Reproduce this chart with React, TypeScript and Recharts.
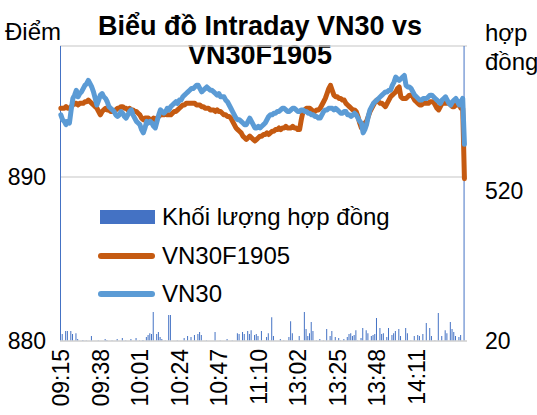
import React from 'react';
import { ComposedChart, Bar, Line, XAxis, YAxis, CartesianGrid, Legend } from 'recharts';

const FONT = '"Liberation Sans", Arial, sans-serif';

// trading sessions (one category per minute)
const sessions = [
  ['09:15', '11:30'],
  ['13:00', '14:40'],
];

const tickTimes = ['09:15', '09:38', '10:01', '10:24', '10:47', '11:10', '13:02', '13:25', '13:48', '14:11'];

const leftTicks = [880, 890];
const rightTicks = [20, 520];

// volume (contracts) per minute
const volume = [
  1500, 43, null, 53, 53, null, 53, 43, null, 46,
  27, null, null, 23, null, 22, null, null, 37, null,
  null, null, 22, null, null, null, 27, 23, null, null,
  22, null, null, 27, null, null, 30, null, 22, null,
  null, 27, null, null, 30, null, 22, null, 23, null,
  33, 40, 46, 43, 116, null, 43, 50, 33, 27,
  null, 22, null, 106, 106, null, null, null, 22, null,
  null, null, 30, null, 37, null, 33, null, 40, null,
  43, 50, 40, null, null, 22, null, null, null, null,
  50, null, null, 22, null, null, null, 27, null, null,
  22, null, null, 46, 43, null, 50, 43, null, 53,
  43, 56, null, 40, 43, 37, null, 53, null, null,
  33, 46, null, 99, 37, null, null, null, 27, null,
  22, null, null, 33, 86, 46, null, 22, null, 37,
  null, null, 116, 60, 37, 46, 83, 53, null, 22,
  null, 27, null, 22, null, 60, null, 37, 53, null,
  33, null, 30, 22, null, 27, null, 33, 43, 46,
  37, 40, 56, 22, null, 30, 63, null, 56, 46,
  null, 37, 40, 43, 96, null, 63, 43, 46, null,
  33, 63, null, 40, 46, 53, null, 60, 37, null,
  null, 63, 46, null, 22, null, 37, null, 40, 37,
  null, 43, null, 80, null, 63, 37, null, 22, null,
  113, null, 37, null, 56, 46, null, 83, 60, 50,
  37, null, 33, 40, null, 1500,
];

const vn30f = [
  894.2, 894.2, 894.2, 894.3, 894.2, 894.2, 894.3, 894.4, 894.5, 894.5,
  894.4, 894.5, 894.5, 894.5, 894.6, 894.6, 894.7, 894.6, 894.5, 894.4,
  894.3, 894.2, 894.0, 893.8, 894.0, 894.1, 894.2, 894.1, 894.1, 894.0,
  894.0, 894.0, 894.1, 894.2, 894.2, 894.3, 894.3, 894.2, 894.2, 894.1,
  894.2, 894.1, 894.1, 894.0, 894.0, 893.9, 893.8, 893.6, 893.5, 893.6,
  893.6, 893.6, 893.5, 893.5, 893.6, 893.5, 893.6, 893.7, 893.8, 893.8,
  893.8, 893.9, 893.8, 893.8, 893.8, 893.9, 894.0, 894.0, 894.1, 894.2,
  894.3, 894.4, 894.4, 894.5, 894.5, 894.5, 894.5, 894.5, 894.5, 894.4,
  894.4, 894.4, 894.3, 894.3, 894.2, 894.2, 894.2, 894.1, 894.1, 894.1,
  894.0, 894.1, 894.0, 894.0, 893.9, 893.8, 893.8, 893.7, 893.7, 893.6,
  893.4, 893.2, 893.0, 892.9, 892.8, 892.7, 892.5, 892.4, 892.3, 892.4,
  892.5, 892.4, 892.3, 892.2, 892.3, 892.4, 892.5, 892.5, 892.6, 892.6,
  892.7, 892.6, 892.7, 892.8, 892.8, 892.9, 892.9, 893.0, 892.9, 893.0,
  893.0, 893.1, 893.0, 893.0, 893.0, 893.1, 893.0, 893.0, 892.9, 892.9,
  893.5, 894.0, 894.1, 894.2, 894.2, 894.2, 894.1, 894.0, 894.0, 894.1,
  894.1, 894.2, 894.4, 894.6, 894.8, 895.1, 895.4, 895.6, 895.3, 895.0,
  894.9, 894.9, 894.8, 894.8, 894.7, 894.7, 894.5, 894.4, 894.3, 894.2,
  894.1, 894.1, 894.0, 893.7, 893.3, 893.0, 893.1, 893.3, 893.4, 893.7,
  894.0, 894.2, 894.4, 894.6, 894.7, 894.6, 894.5, 894.5, 894.4, 894.3,
  894.5, 894.7, 894.9, 895.0, 895.1, 895.2, 895.4, 895.5, 894.9, 894.8,
  894.8, 894.8, 894.9, 895.0, 895.0, 894.9, 894.7, 894.6, 894.5, 894.4,
  894.4, 894.5, 894.5, 894.5, 894.5, 894.6, 894.6, 894.6, 894.4, 894.2,
  894.1, 894.3, 894.5, 894.5, 894.5, 894.5, 894.5, 894.4, 894.3, 894.3,
  894.4, 894.4, 894.4, 894.2, 894.2, 889.9,
];

const vn30 = [
  893.8, 893.5, 893.4, 893.2, 893.4, 893.3, 894.1, 894.8, 895.0, 895.3,
  894.9, 895.1, 895.2, 895.4, 895.6, 895.7, 895.9, 895.7, 895.5, 895.2,
  894.8, 894.4, 894.7, 895.0, 895.1, 894.9, 894.8, 894.6, 894.3, 894.2,
  894.1, 894.0, 893.8, 893.7, 893.8, 894.0, 893.9, 893.7, 893.6, 893.8,
  894.0, 894.1, 893.8, 893.6, 893.4, 893.3, 893.2, 892.9, 892.7, 893.0,
  893.4, 893.3, 893.4, 893.3, 893.1, 893.0, 893.4, 893.8, 894.1, 894.0,
  893.9, 894.0, 894.2, 894.1, 894.3, 894.4, 894.5, 894.6, 894.5, 894.7,
  894.7, 894.9, 895.0, 895.1, 895.2, 895.3, 895.4, 895.4, 895.5, 895.6,
  895.6, 895.4, 895.2, 895.3, 895.4, 895.5, 895.4, 895.3, 895.3, 895.2,
  895.1, 895.0, 895.1, 894.9, 894.9, 894.9, 894.7, 894.6, 894.4, 894.2,
  894.0, 893.8, 893.6, 893.5, 893.5, 893.4, 893.3, 893.2, 893.2, 893.4,
  893.6, 893.4, 893.2, 893.0, 893.0, 893.1, 893.0, 893.1, 893.2, 893.3,
  893.5, 893.7, 893.8, 893.8, 893.9, 893.9, 894.0, 894.0, 894.1, 894.2,
  894.2, 894.1, 894.0, 894.0, 894.1, 894.2, 894.2, 894.1, 894.0, 894.0,
  894.1, 894.1, 894.0, 894.0, 893.9, 893.9, 893.8, 893.8, 893.7, 893.7,
  893.6, 893.6, 893.8, 894.0, 894.1, 894.1, 894.2, 894.2, 894.2, 894.1,
  894.2, 894.1, 894.0, 893.9, 893.9, 894.0, 894.0, 893.8, 893.8, 893.7,
  893.8, 893.9, 893.8, 893.6, 893.4, 893.3, 892.7, 892.9, 893.2, 893.7,
  894.1, 894.3, 894.5, 894.6, 894.7, 894.8, 894.9, 895.0, 895.1, 895.2,
  895.2, 895.3, 895.3, 895.6, 895.8, 896.1, 896.0, 895.9, 896.0, 896.1,
  896.2, 895.6, 895.5, 895.5, 895.4, 895.2, 895.0, 894.9, 894.8, 894.7,
  894.7, 894.8, 894.8, 894.8, 894.9, 895.0, 895.0, 894.9, 894.8, 894.7,
  894.6, 894.5, 894.7, 894.8, 894.9, 894.7, 894.5, 894.4, 894.6, 894.7,
  894.8, 894.6, 894.4, 894.6, 894.8, 892.0,
];

const legendItems = [
  { name: 'Khối lượng hợp đồng', color: '#4472C4', kind: 'bar' },
  { name: 'VN30F1905', color: '#C55A11', kind: 'line' },
  { name: 'VN30', color: '#5B9BD5', kind: 'line' },
];

const toMin = (t: string) => {
  const [h, m] = t.split(':').map(Number);
  return h * 60 + m;
};
const pad = (n: number) => (n < 10 ? '0' + n : '' + n);

const times: string[] = [];
sessions.forEach(([from, to]) => {
  for (let m = toMin(from); m <= toMin(to); m++) {
    times.push(pad(Math.floor(m / 60)) + ':' + pad(m % 60));
  }
});

const data = times.map((time, i) => ({
  time,
  vol: volume[i],
  vn30f: vn30f[i],
  vn30: vn30[i],
}));

const tickSet = new Set(tickTimes);

const TimeTick = (props: any) => {
  const { x, y, payload } = props;
  if (!tickSet.has(payload.value)) return null;
  return (
    <text
      x={x}
      y={y}
      transform={`rotate(-90 ${x} ${y})`}
      textAnchor="end"
      dy="0.36em"
      fontSize={23}
      fontFamily={FONT}
      fill="#000"
    >
      {payload.value}
    </text>
  );
};

const ValueTick = (props: any) => {
  const { x, y, payload, anchor } = props;
  return (
    <text x={x} y={y} dy="0.36em" textAnchor={anchor} fontSize={23} fontFamily={FONT} fill="#000">
      {payload.value}
    </text>
  );
};

const renderLegend = () => (
  <div style={{ fontFamily: FONT, fontSize: 24, color: '#000' }}>
    {legendItems.map((item) => (
      <div key={item.name} style={{ display: 'flex', alignItems: 'center', height: 38.5 }}>
        <div style={{ width: 57, display: 'flex', alignItems: 'center' }}>
          {item.kind === 'bar' ? (
            <div style={{ width: 55, height: 14, marginLeft: 2, background: item.color }} />
          ) : (
            <div style={{ width: 57, height: 6, borderRadius: 3, background: item.color }} />
          )}
        </div>
        <span style={{ marginLeft: 7 }}>{item.name}</span>
      </div>
    ))}
  </div>
);

const App: React.FC = () => {
  return (
    <div style={{ position: 'absolute', left: 0, top: 0, width: 537, height: 415, fontFamily: FONT, background: '#fff', overflow: 'hidden' }}>
      <div style={{ position: 'absolute', left: 0, top: 12, width: 520, textAlign: 'center', fontSize: 27, fontWeight: 'bold', lineHeight: '29px' }}>
        Biểu đồ Intraday VN30 vs
        <br />
        VN30F1905
      </div>
      <div style={{ position: 'absolute', left: 5, top: 20, fontSize: 24, lineHeight: '24px' }}>Điểm</div>
      <div style={{ position: 'absolute', left: 485, top: 18, fontSize: 24, lineHeight: '29px', whiteSpace: 'nowrap' }}>
        hợp
        <br />
        đồng
      </div>
      <ComposedChart
        width={537}
        height={415}
        data={data}
        margin={{ top: 46, right: 0, bottom: 0, left: 0 }}
        barCategoryGap={0}
        style={{ fontFamily: FONT }}
      >
        <CartesianGrid yAxisId="left" vertical={false} stroke="#d9d9d9" strokeWidth={1.5} />
        <XAxis
          dataKey="time"
          interval={0}
          height={74}
          tickSize={0}
          tickMargin={8}
          tick={<TimeTick />}
          axisLine={{ stroke: '#d9d9d9', strokeWidth: 1.5 }}
          tickLine={false}
        />
        <YAxis
          yAxisId="left"
          orientation="left"
          width={60}
          domain={[880, 898]}
          ticks={leftTicks}
          allowDataOverflow
          axisLine={false}
          tickLine={false}
          tickSize={0}
          tickMargin={14}
          tick={<ValueTick anchor="end" />}
        />
        <YAxis
          yAxisId="right"
          orientation="right"
          width={70}
          domain={[20, 1000]}
          ticks={rightTicks}
          allowDataOverflow
          axisLine={false}
          tickLine={false}
          tickSize={0}
          tickMargin={18}
          tick={<ValueTick anchor="start" />}
        />
        <Legend
          layout="vertical"
          align="center"
          verticalAlign="middle"
          content={renderLegend}
          wrapperStyle={{ left: 98, top: 198, width: 320 }}
        />
        <Bar yAxisId="right" dataKey="vol" name="Khối lượng hợp đồng" fill="#4472C4" barSize={1} isAnimationActive={false} />
        <Line
          yAxisId="left"
          type="linear"
          dataKey="vn30f"
          name="VN30F1905"
          stroke="#C55A11"
          strokeWidth={5}
          strokeLinejoin="round"
          strokeLinecap="round"
          dot={false}
          activeDot={false}
          isAnimationActive={false}
        />
        <Line
          yAxisId="left"
          type="linear"
          dataKey="vn30"
          name="VN30"
          stroke="#5B9BD5"
          strokeWidth={5}
          strokeLinejoin="round"
          strokeLinecap="round"
          dot={false}
          activeDot={false}
          isAnimationActive={false}
        />
      </ComposedChart>
    </div>
  );
};

export default App;
